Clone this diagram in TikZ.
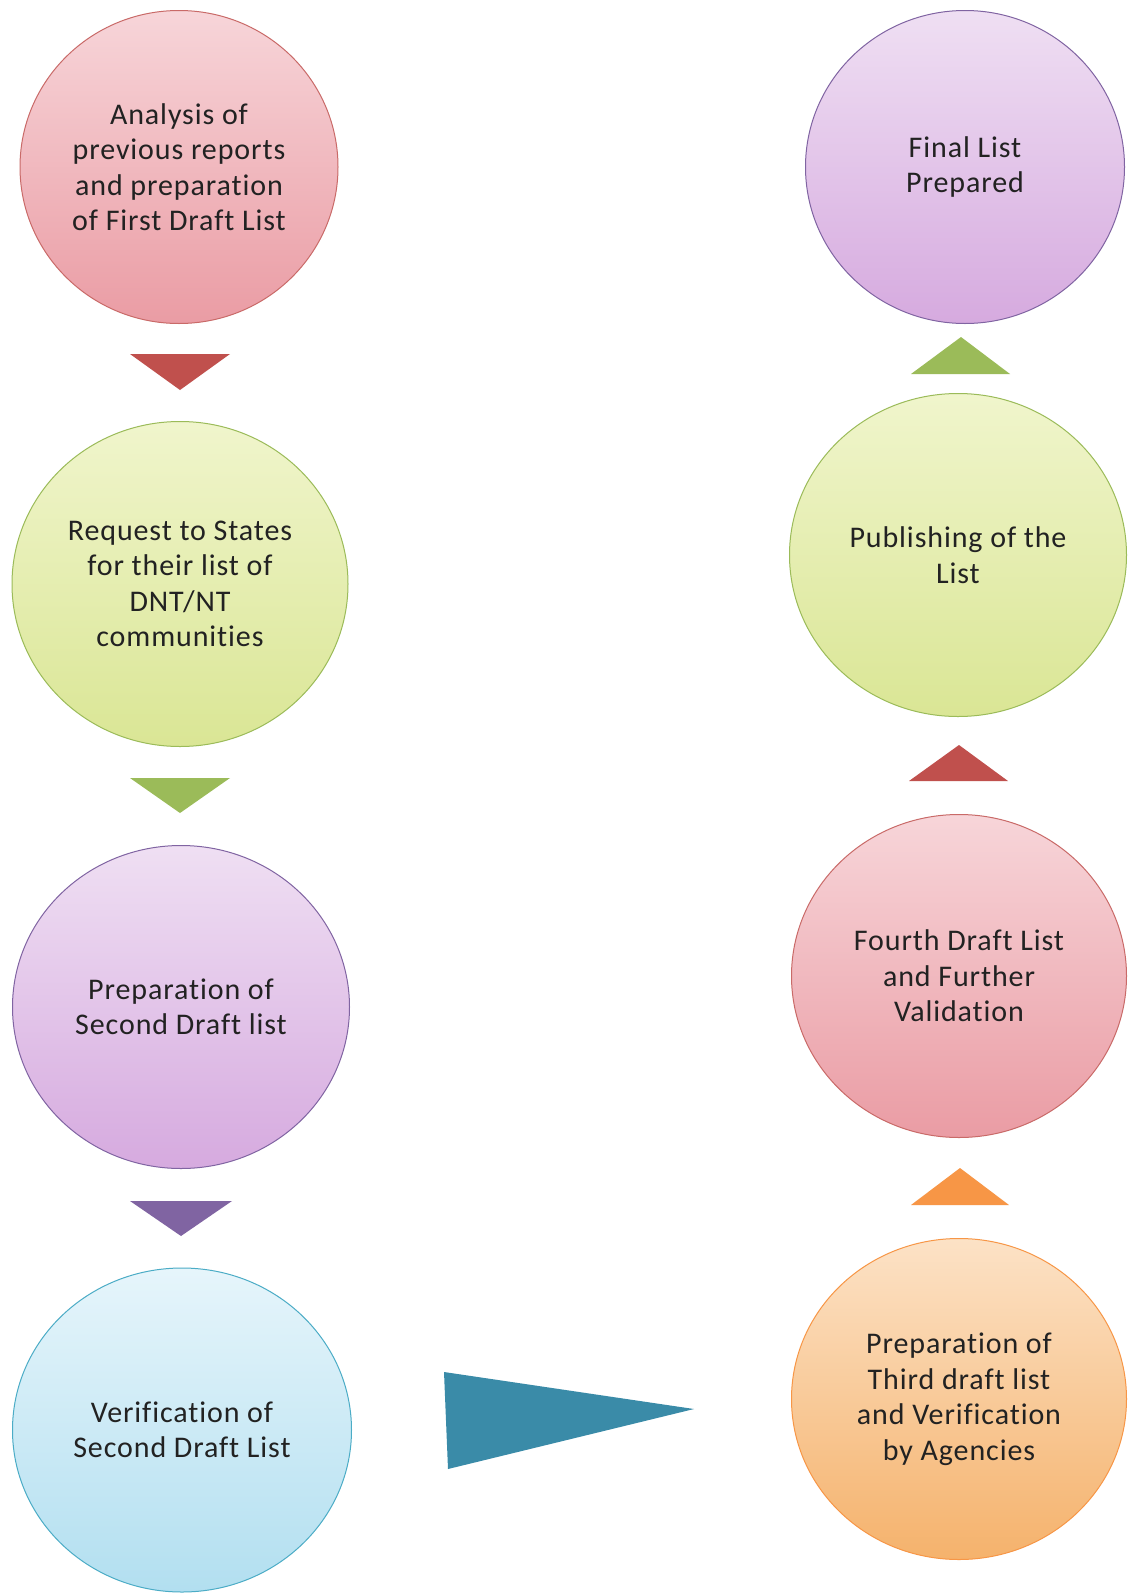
\documentclass[tikz,border=0pt]{standalone}
\usepackage{fontspec}
\setmainfont{Carlito}[Ligatures=NoCommon, LetterSpace=3]
\usetikzlibrary{shapes.geometric}
\definecolor{redB}{HTML}{C0504D}
\definecolor{greenB}{HTML}{9BBB59}
\definecolor{purpleB}{HTML}{8064A2}
\definecolor{blueB}{HTML}{4BACC6}
\definecolor{orangeB}{HTML}{F79646}
\definecolor{tealT}{HTML}{3A8BA8}
\definecolor{txt}{HTML}{222222}
\definecolor{pinkT}{HTML}{F7D5D9}\definecolor{pinkD}{HTML}{EA9CA4}
\definecolor{greenT}{HTML}{F0F5CC}\definecolor{greenD}{HTML}{DAE695}
\definecolor{purpT}{HTML}{EFDFF3}\definecolor{purpD}{HTML}{D6AADF}
\definecolor{blueT}{HTML}{E6F5FB}\definecolor{blueD}{HTML}{B2DFF0}
\definecolor{orT}{HTML}{FCE2C6}\definecolor{orD}{HTML}{F5B26C}
\tikzset{
  stage/.style={ellipse, draw, line width=1pt, align=center, text=txt,
    font=\fontsize{30}{35.5}\selectfont, inner sep=0pt},
  pinkstage/.style={stage, draw=redB!85, top color=pinkT, bottom color=pinkD},
  greenstage/.style={stage, draw=greenB, top color=greenT, bottom color=greenD},
  purplestage/.style={stage, draw=purpleB, top color=purpT, bottom color=purpD},
  bluestage/.style={stage, draw=blueB, top color=blueT, bottom color=blueD},
  orangestage/.style={stage, draw=orangeB, top color=orT, bottom color=orD}
}
\begin{document}
\begin{tikzpicture}[x=1pt,y=-1pt]
\useasboundingbox[fill=white] (0,0) rectangle (1132,1593);
% left column
\node[pinkstage, minimum width=318pt, minimum height=313pt] (c1) at (179,167)
  {Analysis of\\previous reports\\and preparation\\of First Draft List};
\node[greenstage, minimum width=336pt, minimum height=325pt] (c2) at (180,584)
  {Request to States\\for their list of\\DNT/NT\\communities};
\node[purplestage, minimum width=337pt, minimum height=323pt] (c3) at (181,1007)
  {Preparation of\\Second Draft list};
\node[bluestage, minimum width=339pt, minimum height=324pt] (c4) at (182,1430)
  {Verification of\\Second Draft List};
% right column
\node[purplestage, minimum width=319pt, minimum height=313pt] (r1) at (965,167)
  {Final List\\Prepared};
\node[greenstage, minimum width=337pt, minimum height=323pt] (r2) at (958,555)
  {Publishing of the\\List};
\node[pinkstage, minimum width=335pt, minimum height=323pt] (r3) at (959,976)
  {Fourth Draft List\\and Further\\Validation};
\node[orangestage, minimum width=335pt, minimum height=321pt] (r4) at (959,1399)
  {Preparation of\\Third draft list\\and Verification\\by Agencies};
% triangle markers
\fill[redB] (130,354) -- (230,354) -- (180,390) -- cycle;
\fill[greenB] (130,778) -- (230,778) -- (180,813) -- cycle;
\fill[purpleB] (130,1201) -- (232,1201) -- (181,1236) -- cycle;
\fill[tealT] (444,1372) -- (694,1409) -- (448,1469) -- cycle;
\fill[orangeB] (911,1205) -- (1009,1205) -- (960,1168) -- cycle;
\fill[redB] (909,781) -- (1008,781) -- (959,745) -- cycle;
\fill[greenB] (911,374) -- (1010,374) -- (961,337) -- cycle;
\end{tikzpicture}
\end{document}
